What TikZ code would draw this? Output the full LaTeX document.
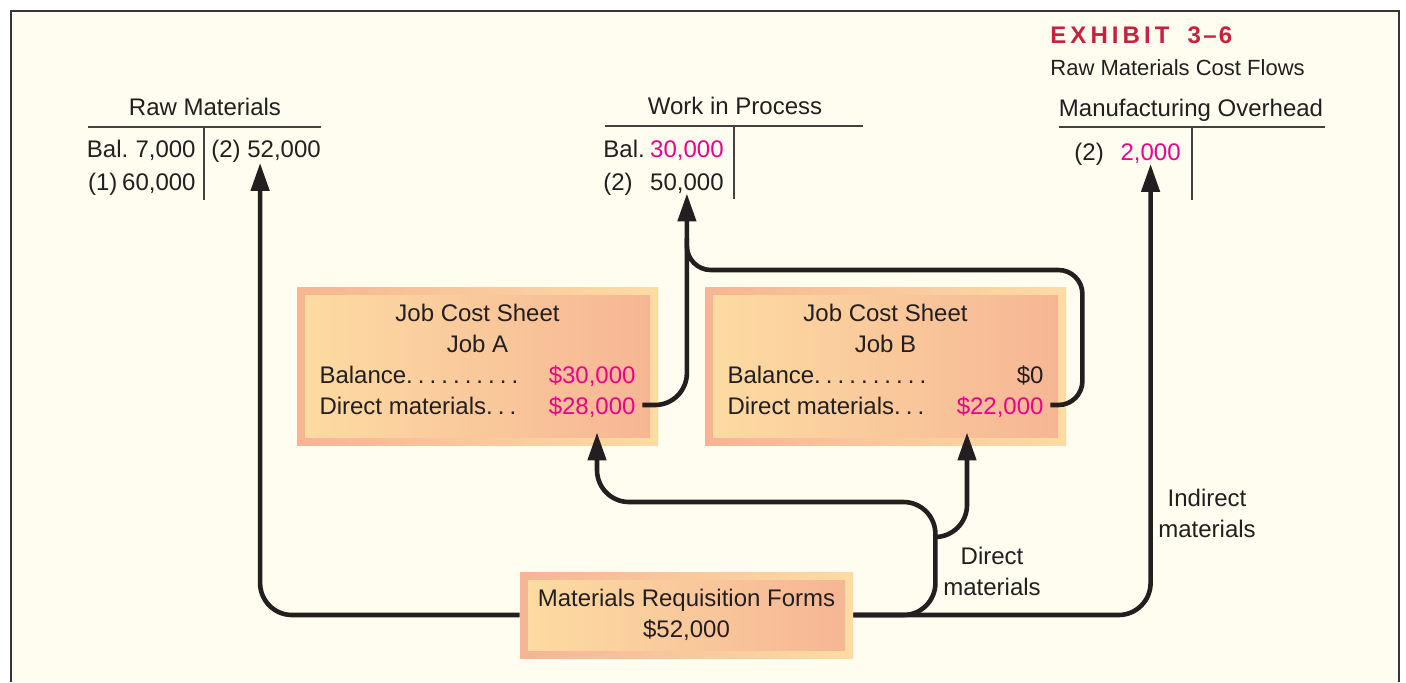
\documentclass[tikz,border=0pt]{standalone}
\usepackage{fontspec}
\setmainfont{Liberation Sans}
\newfontfamily\exhibitfont[LetterSpace=17]{Liberation Sans}
\usepackage{array}
\usetikzlibrary{arrows.meta,calc,positioning}
\definecolor{paper}{HTML}{FFFCF0}
\definecolor{ink}{HTML}{231F20}
\definecolor{amount}{HTML}{EC008C}
\definecolor{exhibitred}{HTML}{C8203F}
\definecolor{peach}{HTML}{FDDCA2}
\definecolor{salmon}{HTML}{F6B594}
\newcommand{\sheetrow}[2]{\makebox[158pt]{#1\hfill#2}}
\newcommand{\sheetdots}[1]{\foreach \k in {1,...,#1}{.\hspace{0.21em}}}
\newcommand{\amt}[1]{\textcolor{amount}{#1}}

\begin{document}
\begin{tikzpicture}[x=0.5pt, y=-0.5pt, font=\fontsize{12}{15.5}\selectfont, text=ink,
    sheet/.style={rectangle, inner sep=0pt, left color=salmon, right color=peach,
      path picture={\shade[left color=peach, right color=salmon]
        ([shift={(4pt,-4pt)}]path picture bounding box.north west) rectangle
        ([shift={(-4pt,4pt)}]path picture bounding box.south east);}},
    jobsheet/.style={sheet, minimum width=180.5pt, minimum height=79pt},
    entry/.style={inner sep=0pt},
    tline/.style={draw=ink!85, line width=0.6pt},
    flow/.style={draw=ink, line width=2.3pt, rounded corners=16pt,
      -{Triangle[length=14pt,width=9pt]}}]
  \useasboundingbox (0,0) rectangle (1406,682);

  % --- frame ---
  \fill[paper] (11,11) rectangle (1399,682);
  \draw[ink!90, line width=1.3pt] (11,682) -- (11,11) -- (1399,11) -- (1399,682);

  % --- exhibit heading ---
  \node[entry, anchor=base west, text=exhibitred] (exhibit) at (1050,43.5)
    {\exhibitfont\bfseries EXHIBIT\hspace{0.3em} 3\hspace{0.1em}–\hspace{0.1em}6};
  \node[entry, anchor=base west, font=\fontsize{11}{13}\selectfont] (caption) at (1050,75.5)
    {Raw Materials Cost Flows};

  % --- T-account: Raw Materials ---
  \node[entry, anchor=base] (rmtitle) at (205,115.5) {Raw Materials};
  \draw[tline] (88,127) -- (321,127) (204,127) -- (204,200);
  \node[entry, anchor=base east] (rmbal) at (196,157.5) {Bal.\hspace{0.3em}7,000};
  \node[entry, anchor=base east] (rmdr) at (196,190.5) {(1)\hspace{0.2em}60,000};
  \node[entry, anchor=base west] (rmcr) at (211,157.5) {(2) 52,000};

  % --- T-account: Work in Process ---
  \node[entry, anchor=base] (wiptitle) at (735,114.5) {Work in Process};
  \draw[tline] (605,126) -- (863,126) (734,126) -- (734,199);
  \node[entry, anchor=base west] (wipballbl) at (603,157) {Bal.};
  \node[entry, anchor=base east] (wipbal) at (724,157) {\amt{30,000}};
  \node[entry, anchor=base west] (wip2lbl) at (603,190) {(2)};
  \node[entry, anchor=base east] (wip50) at (724,190) {50,000};

  % --- T-account: Manufacturing Overhead ---
  \node[entry, anchor=base] (mohtitle) at (1191,116.5) {Manufacturing Overhead};
  \draw[tline] (1059,127) -- (1325,127) (1192,127) -- (1192,200);
  \node[entry, anchor=base west] (moh2lbl) at (1074,160.5) {(2)};
  \node[entry, anchor=base east] (moh2) at (1181,160.5) {\amt{2,000}};

  % --- job cost sheets ---
  \node[jobsheet] (jobA) at (477.5,366) {\begin{tabular}{@{}c@{}}
      Job Cost Sheet\\
      Job A\\
      \sheetrow{Balance\sheetdots{10}}{\amt{\$30,000}}\\
      \sheetrow{Direct materials\sheetdots{3}}{\amt{\$28,000}}\\[4pt]
    \end{tabular}};
  \node[jobsheet] (jobB) at (885.5,366) {\begin{tabular}{@{}c@{}}
      Job Cost Sheet\\
      Job B\\
      \sheetrow{Balance\sheetdots{10}}{\$0}\\
      \sheetrow{Direct materials\sheetdots{3}}{\amt{\$22,000}}\\[4pt]
    \end{tabular}};

  % --- requisitions ---
  \node[sheet, minimum width=166.5pt, minimum height=43pt, align=center] (mrf) at (686.5,615)
    {Materials Requisition Forms\\\$52,000};

  % --- labels ---
  \node[entry, align=center] (dmlabel) at (992,571) {Direct\\materials};
  \node[entry, align=center] (imlabel) at (1207,513) {Indirect\\materials};

  % --- flows ---
  \coordinate (dmsplit) at (935,537);
  \draw[flow] (mrf.west) -| ($(rmcr.south)+(-6,0)$);
  \draw[flow] (mrf.east) -| (moh2.south);
  \draw[flow] (mrf.east) -| ++(82,-113) -| ($(jobA.south)+(119.5,-13)$);
  \draw[flow] (dmsplit) -| ($(jobB.south)+(81.5,-13)$);
  \draw[flow] ($(jobA.east)+(-16,39)$) -| (wip50.south);
  \draw[flow, -, rounded corners=12pt] ($(jobB.east)+(-16,39)$) -| ++(32,-135)
    -| ($(wip50.south)+(0,45)$);
\end{tikzpicture}
\end{document}
